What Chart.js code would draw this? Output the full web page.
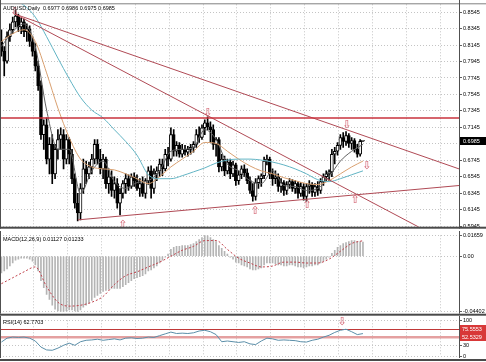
<!DOCTYPE html>
<html><head><meta charset="utf-8">
<script src="https://cdn.jsdelivr.net/npm/chart.js@4.4.1/dist/chart.umd.min.js"></script>
<style>
html,body{margin:0;padding:0;background:#fff;}
#wrap{position:relative;width:486px;height:362px;overflow:hidden;background:#fff}
canvas{position:absolute;left:0}
</style></head><body>
<div id="wrap">
<canvas id="main" width="486" height="231" style="top:0"></canvas>
<canvas id="macd" width="486" height="85" style="top:231px"></canvas>
<canvas id="rsi" width="486" height="46" style="top:316px"></canvas>
</div>
<script>
// ---------------- DATA ----------------
const symbol = 'AUDUSD,Daily';
const opens = [.8188,.8069,.7950,.8247,.8331,.8426,.8497,.8366,.8426,.8307,
.8343,.8188,.8069,.7890,.7652,.7057,.7176,.6760,.6938,.6581,
.6879,.6998,.7057,.6760,.6998,.6819,.6522,.6224,.6105,.6403,
.6641,.6581,.6665,.6760,.6938,.6760,.6641,.6760,.6462,.6546,
.6379,.6462,.6224,.6343,.6462,.6522,.6427,.6546,.6498,.6403,
.6462,.6343,.6498,.6617,.6403,.6581,.6617,.6700,.6641,.6819,
.6760,.7057,.6855,.6927,.6819,.6879,.6843,.6879,.6903,.6938,
.7057,.7022,.7141,.7200,.7153,.7117,.6938,.6998,.6665,.6760,
.6617,.6724,.6581,.6689,.6498,.6570,.6641,.6593,.6498,.6379,
.6308,.6474,.6522,.6558,.6736,.6760,.6581,.6522,.6546,.6427,
.6474,.6379,.6451,.6486,.6403,.6462,.6343,.6427,.6308,.6427,
.6451,.6355,.6427,.6379,.6486,.6546,.6581,.6605,.6819,.6855,
.6927,.7022,.6974,.7046,.6950,.6986,.6879,.6819,.6977];
const highs = [.8331,.8128,.8307,.8402,.8485,.8569,.8521,.8474,.8462,.8402,
.8378,.8247,.8164,.7950,.7712,.7236,.7260,.7022,.7057,.6938,
.7117,.7141,.7117,.7057,.7022,.6879,.6581,.6343,.6462,.6760,
.6736,.6724,.6819,.6998,.6998,.6879,.6819,.6784,.6641,.6617,
.6546,.6522,.6403,.6498,.6581,.6570,.6581,.6593,.6570,.6522,
.6546,.6522,.6665,.6677,.6641,.6665,.6760,.6760,.6879,.6903,
.7141,.7117,.6974,.6962,.6938,.6927,.6915,.6938,.6974,.7117,
.7153,.7176,.7236,.7272,.7212,.7176,.7022,.7022,.6819,.6796,
.6760,.6760,.6736,.6712,.6617,.6677,.6689,.6641,.6546,.6462,
.6522,.6558,.6581,.6784,.6808,.6784,.6641,.6617,.6581,.6522,
.6498,.6486,.6522,.6510,.6498,.6486,.6474,.6462,.6462,.6498,
.6474,.6462,.6486,.6522,.6581,.6617,.6629,.6879,.6903,.6962,
.7057,.7081,.7093,.7069,.7022,.7010,.6938,.6998,.6986];
const lows = [.8009,.7771,.7926,.8188,.8283,.8366,.8307,.8283,.8247,.8188,
.8128,.8009,.7831,.7593,.6998,.6879,.6700,.6581,.6462,.6522,
.6760,.6879,.6641,.6700,.6700,.6462,.6165,.6010,.6022,.6343,
.6462,.6522,.6581,.6700,.6700,.6581,.6522,.6403,.6343,.6308,
.6284,.6165,.6082,.6284,.6343,.6379,.6403,.6427,.6379,.6308,
.6308,.6284,.6451,.6284,.6343,.6498,.6546,.6558,.6617,.6677,
.6736,.6796,.6796,.6784,.6784,.6808,.6796,.6819,.6843,.6903,
.6962,.6998,.7057,.7117,.6962,.6879,.6796,.6605,.6617,.6558,
.6581,.6522,.6546,.6439,.6451,.6522,.6546,.6462,.6343,.6248,
.6260,.6403,.6427,.6522,.6689,.6522,.6439,.6462,.6367,.6355,
.6320,.6332,.6403,.6367,.6343,.6284,.6308,.6260,.6248,.6343,
.6308,.6308,.6320,.6343,.6439,.6498,.6498,.6546,.6700,.6808,
.6879,.6903,.6927,.6903,.6879,.6843,.6784,.6796,.6975];
const closes = [.8069,.7950,.8247,.8331,.8426,.8497,.8366,.8426,.8307,.8343,
.8188,.8069,.7890,.7652,.7057,.7176,.6760,.6938,.6581,.6879,
.6998,.7057,.6760,.6998,.6819,.6522,.6224,.6105,.6403,.6641,
.6581,.6665,.6760,.6938,.6760,.6641,.6760,.6462,.6546,.6379,
.6462,.6224,.6343,.6462,.6522,.6427,.6546,.6498,.6403,.6462,
.6343,.6498,.6617,.6403,.6581,.6617,.6700,.6641,.6819,.6760,
.7057,.6855,.6927,.6819,.6879,.6843,.6879,.6903,.6938,.7057,
.7022,.7141,.7200,.7153,.7117,.6938,.6998,.6665,.6760,.6617,
.6724,.6581,.6689,.6498,.6570,.6641,.6593,.6498,.6379,.6308,
.6474,.6522,.6558,.6736,.6760,.6581,.6522,.6546,.6427,.6474,
.6379,.6451,.6486,.6403,.6462,.6343,.6427,.6308,.6427,.6451,
.6355,.6427,.6379,.6486,.6546,.6581,.6605,.6819,.6855,.6927,
.7022,.6974,.7046,.6950,.6986,.6879,.6819,.6977,.6985];

// moving averages, one value every 4 bars
const maStep = 4;
const maSlow = [.8759,.8688,.8628,.8485,.8247,.7986,.7736,.7510,.7355,.7260,.7117,.6974,.6808,.6570,.6522,.6522,.6558,.6605,.6653,.6712,.6748,.6760,.6760,.6748,.6724,.6689,.6641,.6581,.6510,.6486,.6522,.6570,.6617];
const maMid = [.8188,.8283,.8331,.8188,.7807,.7379,.7022,.6760,.6665,.6641,.6629,.6581,.6522,.6462,.6546,.6665,.6760,.6855,.6962,.6950,.6855,.6760,.6677,.6617,.6581,.6534,.6498,.6462,.6451,.6498,.6581,.6665,.6736];
const maFast = [.8128,.8307,.8402,.8128,.7355,.6879,.6879,.6343,.6617,.6736,.6486,.6403,.6474,.6498,.6617,.6855,.6879,.6903,.7117,.6998,.6700,.6617,.6498,.6462,.6617,.6439,.6427,.6379,.6403,.6546,.6736,.6855,.6938];

// trend lines: [barIndex, price] end points
const resistTop = [[-0.5,0.7260],[162,0.7260]];
const trendA = [[4.8,0.8521],[162,0.6641]];
const trendB = [[4.8,0.8521],[162,0.5677]];
const supportLine = [[27.1,0.6022],[162,0.6439]];
// arrow marks [barIndex, price]
const arrowsDown = [[4.8,0.8545],[73.1,0.7319],[122.3,0.7176],[129.4,0.6677]];
const arrowsUp = [[43.0,0.5963],[89.8,0.6129],[108.2,0.6200],[125.2,0.6260]];

// price axis ticks
const priceTicks = [0.8545,0.8345,0.8145,0.7945,0.7745,0.7545,0.7345,0.7145,0.6945,0.6745,0.6545,0.6345,0.6145,0.5945];
const priceMin = 0.5939, priceMax = 0.8640;

// MACD(12,26,9)
const macdLabel = 'MACD(12,26,9)';
const macdMain = [-0.0132,-0.0117,-0.0101,-0.0078,-0.0054,-0.0031,-0.0023,-0.0016,-0.0016,-0.0016,
-0.0023,-0.0039,-0.0070,-0.0117,-0.0194,-0.0249,-0.0303,-0.0342,-0.0389,-0.0420,
-0.0435,-0.0440,-0.0440,-0.0435,-0.0427,-0.0427,-0.0435,-0.0440,-0.0427,-0.0404,
-0.0389,-0.0373,-0.0350,-0.0326,-0.0311,-0.0295,-0.0280,-0.0272,-0.0264,-0.0256,
-0.0256,-0.0256,-0.0256,-0.0241,-0.0225,-0.0210,-0.0194,-0.0179,-0.0171,-0.0163,
-0.0155,-0.0140,-0.0117,-0.0109,-0.0093,-0.0078,-0.0054,-0.0031,-0.0008,0.0016,
0.0054,0.0070,0.0078,0.0078,0.0085,0.0085,0.0085,0.0093,0.0101,0.0117,
0.0132,0.0148,0.0166,0.0163,0.0148,0.0132,0.0117,0.0085,0.0062,0.0039,
0.0016,-0.0008,-0.0023,-0.0047,-0.0054,-0.0070,-0.0078,-0.0085,-0.0101,-0.0109,
-0.0109,-0.0101,-0.0093,-0.0070,-0.0054,-0.0054,-0.0054,-0.0062,-0.0070,-0.0070,
-0.0078,-0.0078,-0.0070,-0.0070,-0.0078,-0.0085,-0.0085,-0.0093,-0.0085,-0.0078,
-0.0078,-0.0070,-0.0070,-0.0054,-0.0039,-0.0023,-0.0008,0.0023,0.0047,0.0070,
0.0085,0.0101,0.0109,0.0117,0.0124,0.0124,0.0117,0.0117,0.01127];
const signalStep = 4;
const macdSignal = [-0.0218,-0.0171,-0.0124,-0.0085,-0.0241,-0.0365,-0.0396,-0.0389,-0.0365,-0.0319,-0.0225,-0.0155,-0.0124,-0.0085,-0.0047,0.0000,0.0047,0.0078,0.0124,0.0124,0.0054,-0.0016,-0.0054,-0.0085,-0.0078,-0.0047,-0.0047,-0.0054,-0.0054,-0.0023,0.0039,0.0101,0.01233];
const macdMax = 0.01659, macdMin = -0.04402;

// RSI(14), one value every 2 bars
const rsiLabel = 'RSI(14)';
const rsiStep = 2;
const rsiVals = [39,50,53,52,53,50,42,25,17,16,22,30,36,30,40,44,45,47,44,46,48,45,50,51,49,50,53,52,57,62,67,63,64,63,65,70,72,68,60,40,42,40,38,40,34,32,42,50,48,44,45,44,43,40,39,44,47,53,58,66,72,75,68,60,62.7703];
const rsiLevels = [75.5553, 52.5329];
const rsiTicks = [100, 30, 0];
const rsiArrowsDown = [[120.6, 94]];

// ---------------- RENDER ----------------
const FAM = '"Liberation Sans", Arial, sans-serif';
const FS = 5.5;
const GRID = '#c4c4c4';
const ARROW_FONT = '11px "DejaVu Sans"';
const ARROW_COLOR = '#d05868';
const gridX = [];
for (let k = 0; k < 13; k++) gridX.push(11.4 + 12 * k);
const N = closes.length;
const bars = closes.map((_, i) => i);
const sparse = (vals, step) => vals.map((v, i) => ({x: i * step, y: v}));
const seg = pts => pts.map(p => ({x: p[0], y: p[1]}));

Chart.defaults.font.family = FAM;
Chart.defaults.font.size = FS;
Chart.defaults.color = '#000';

function xScale() {
  return {
    type: 'linear', min: -0.5, max: 162, offset: false,
    afterBuildTicks: s => { s.ticks = gridX.map(v => ({value: v})); },
    ticks: {display: false},
    grid: {color: GRID, drawTicks: false, offset: false},
    border: {display: false, dash: [1, 2]}
  };
}
function yScale(min, max, ticks, fmt) {
  return {
    position: 'right', min, max,
    afterBuildTicks: s => { s.ticks = ticks.map(v => ({value: v})); },
    afterFit: s => { s.width = 27; },
    ticks: {font: {size: FS, family: FAM}, color: '#000', padding: 1, autoSkip: false, maxRotation: 0, callback: fmt},
    grid: {color: GRID, tickLength: 3, tickColor: '#606060', tickBorderDash: []},
    border: {display: true, color: '#505050', dash: [1, 2]}
  };
}
const common = {
  responsive: false, animation: false, events: [],
  plugins: {legend: {display: false}, tooltip: {enabled: false}}
};

function frame(ctx, a, w, sepBottom) {
  ctx.save();
  ctx.strokeStyle = '#505050'; ctx.lineWidth = 1;
  ctx.beginPath();
  ctx.moveTo(a.right + 0.5, 0); ctx.lineTo(a.right + 0.5, a.bottom + 2);
  ctx.moveTo(0.5, 0); ctx.lineTo(0.5, a.bottom + 2);
  ctx.stroke();
  ctx.fillStyle = '#4a4a4a';
  ctx.fillRect(0, sepBottom, w, 2);
  ctx.restore();
}

const mainDeco = {
  id: 'mainDeco',
  afterDraw(chart) {
    const {ctx, chartArea: a, scales: {x, y}} = chart;
    ctx.save();
    ctx.strokeStyle = '#808080'; ctx.lineWidth = 1;
    ctx.beginPath(); ctx.moveTo(0, a.top - 0.5); ctx.lineTo(chart.width, a.top - 0.5); ctx.stroke();
    ctx.font = ARROW_FONT; ctx.fillStyle = ARROW_COLOR;
    ctx.textAlign = 'center'; ctx.textBaseline = 'middle';
    arrowsDown.forEach(p => ctx.fillText('\u21E9', x.getPixelForValue(p[0]), y.getPixelForValue(p[1])));
    arrowsUp.forEach(p => ctx.fillText('\u21E7', x.getPixelForValue(p[0]), y.getPixelForValue(p[1])));
    ctx.font = FS + 'px ' + FAM; ctx.fillStyle = '#000'; ctx.textAlign = 'left';
    const L = N - 1;
    ctx.fillText(symbol + '  ' + [opens[L], highs[L], lows[L], closes[L]].map(v => v.toFixed(4)).join(' '), 3, a.top + 4);
    const py = Math.round(y.getPixelForValue(closes[L]));
    ctx.fillStyle = '#000'; ctx.fillRect(a.right + 1, py - 4, 26, 8);
    ctx.fillStyle = '#fff'; ctx.fillText(closes[L].toFixed(4), a.right + 4, py);
    ctx.restore();
    frame(ctx, a, chart.width, a.bottom);
  }
};

new Chart(document.getElementById('main'), {
  type: 'bar',
  data: {datasets: [
    {type: 'line', data: seg(resistTop), borderColor: '#c8323c', borderWidth: 1.5, pointRadius: 0, order: 0},
    {type: 'line', data: seg(trendA), borderColor: '#b04a55', borderWidth: 1, pointRadius: 0, order: 0},
    {type: 'line', data: seg(trendB), borderColor: '#b04a55', borderWidth: 1, pointRadius: 0, order: 0},
    {type: 'line', data: seg(supportLine), borderColor: '#b04a55', borderWidth: 1, pointRadius: 0, order: 0},
    {type: 'line', data: sparse(maSlow, maStep), borderColor: '#62b4c4', borderWidth: 1, pointRadius: 0, cubicInterpolationMode: 'monotone', order: 1},
    {type: 'line', data: sparse(maMid, maStep), borderColor: '#d9a070', borderWidth: 1, pointRadius: 0, cubicInterpolationMode: 'monotone', order: 1},
    {type: 'line', data: sparse(maFast, maStep), borderColor: '#606060', borderWidth: 1, pointRadius: 0, cubicInterpolationMode: 'monotone', order: 1},
    {data: bars.map(i => ({x: i, y: [opens[i], closes[i]]})), grouped: false, barThickness: 3, minBarLength: 1,
     backgroundColor: bars.map(i => closes[i] >= opens[i] ? '#ffffff' : '#000000'),
     borderColor: '#000', borderWidth: 1, borderSkipped: false, order: 2},
    {data: bars.map(i => ({x: i, y: [lows[i], highs[i]]})), grouped: false, barThickness: 1, backgroundColor: '#000', order: 3}
  ]},
  options: {...common,
    layout: {padding: {top: 2, bottom: 2, left: 0, right: 0}},
    scales: {x: xScale(), y: yScale(priceMin, priceMax, priceTicks, v => v.toFixed(4))}
  },
  plugins: [mainDeco]
});

const macdDeco = {
  id: 'macdDeco',
  afterDraw(chart) {
    const {ctx, chartArea: a} = chart;
    ctx.save();
    ctx.font = FS + 'px ' + FAM; ctx.fillStyle = '#000'; ctx.textAlign = 'left'; ctx.textBaseline = 'middle';
    ctx.fillText(macdLabel + ' ' + macdMain[N - 1].toFixed(5) + ' ' + macdSignal[macdSignal.length - 1].toFixed(5), 3, a.top + 4);
    ctx.restore();
    frame(ctx, a, chart.width, a.bottom + 2);
  }
};
new Chart(document.getElementById('macd'), {
  type: 'bar',
  data: {datasets: [
    {type: 'line', data: sparse(macdSignal, signalStep), borderColor: '#c0404a', borderWidth: 1, borderDash: [2, 2], pointRadius: 0, cubicInterpolationMode: 'monotone', order: 0},
    {data: bars.map(i => ({x: i, y: macdMain[i]})), grouped: false, barThickness: 1, backgroundColor: '#b4b4b4', order: 1}
  ]},
  options: {...common,
    layout: {padding: {top: 3, bottom: 4, left: 0, right: 0}},
    scales: {x: xScale(), y: yScale(macdMin, macdMax, [macdMax, 0, macdMin], v => v === 0 ? '0.00' : v.toFixed(5))}
  },
  plugins: [macdDeco]
});

const rsiDeco = {
  id: 'rsiDeco',
  beforeDatasetsDraw(chart) {
    const {ctx, chartArea: a, scales: {y}} = chart;
    ctx.save();
    const y1 = y.getPixelForValue(rsiLevels[0]), y2 = y.getPixelForValue(rsiLevels[1]);
    ctx.strokeStyle = 'rgba(225,150,150,0.9)'; ctx.lineWidth = 2.5;
    ctx.beginPath(); ctx.moveTo(a.left, y2); ctx.lineTo(a.right, y2); ctx.stroke();
    ctx.strokeStyle = '#c03838'; ctx.lineWidth = 1;
    ctx.beginPath(); ctx.moveTo(a.left, Math.round(y1) + 0.5); ctx.lineTo(a.right, Math.round(y1) + 0.5); ctx.stroke();
    ctx.restore();
  },
  afterDraw(chart) {
    const {ctx, chartArea: a, scales: {x, y}} = chart;
    ctx.save();
    ctx.font = FS + 'px ' + FAM; ctx.textAlign = 'left'; ctx.textBaseline = 'middle';
    ctx.fillStyle = '#000';
    ctx.fillText(rsiLabel + ' ' + rsiVals[rsiVals.length - 1].toFixed(4), 3, a.top + 2);
    rsiLevels.forEach(v => {
      const py = Math.round(y.getPixelForValue(v));
      ctx.fillStyle = '#d83838'; ctx.fillRect(a.right + 1, py - 4, 26, 8);
      ctx.fillStyle = '#fff'; ctx.fillText(v.toFixed(4), a.right + 3, py);
    });
    ctx.font = ARROW_FONT; ctx.fillStyle = ARROW_COLOR; ctx.textAlign = 'center';
    rsiArrowsDown.forEach(p => ctx.fillText('\u21E9', x.getPixelForValue(p[0]), y.getPixelForValue(p[1])));
    ctx.restore();
    frame(ctx, a, chart.width, a.bottom + 3);
  }
};
new Chart(document.getElementById('rsi'), {
  type: 'line',
  data: {datasets: [
    {data: sparse(rsiVals, rsiStep), borderColor: '#5a8ea8', borderWidth: 1, pointRadius: 0}
  ]},
  options: {...common,
    layout: {padding: {top: 4, bottom: 6, left: 0, right: 0}},
    scales: {x: xScale(), y: yScale(0, 100, rsiTicks, v => String(v))}
  },
  plugins: [rsiDeco]
});
</script>
</body></html>
